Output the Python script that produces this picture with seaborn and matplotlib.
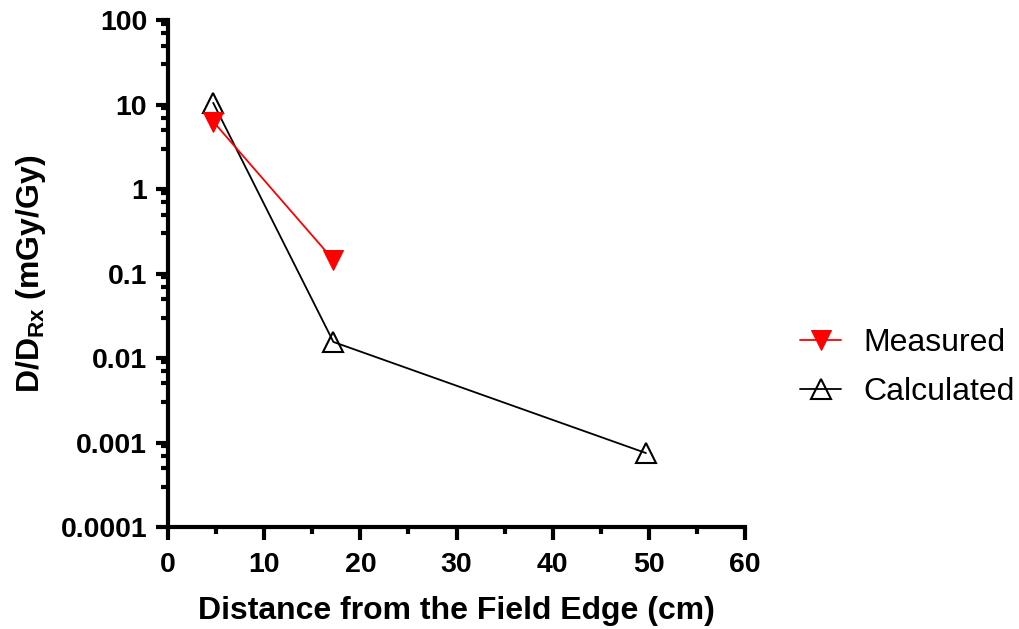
import numpy as np
import pandas as pd
import matplotlib
matplotlib.use("Agg")
import matplotlib.pyplot as plt
import matplotlib.ticker as mticker
import seaborn as sns

# datos
dist_medido = [4.7, 17.2]
dosis_medido = [6.3, 0.145]
dist_calculado = [4.7, 17.2, 49.7]
dosis_calculado = [10.5, 0.0155, 0.00075]
etiquetas_y = ["0.0001", "0.001", "0.01", "0.1", "1", "10", "100"]
ticks_y = [1e-4, 1e-3, 1e-2, 1e-1, 1, 10, 100]

sns.set_style("ticks", {"axes.edgecolor": "black", "text.color": "black",
                        "axes.labelcolor": "black", "xtick.color": "black",
                        "ytick.color": "black"})
plt.rcParams["font.family"] = ["Liberation Sans", "DejaVu Sans"]
plt.rcParams["mathtext.fontset"] = "custom"
plt.rcParams["mathtext.rm"] = "Liberation Sans"
plt.rcParams["mathtext.bf"] = "Liberation Sans:bold"

fig = plt.figure(figsize=(10.2, 6.29), dpi=100)
ax = fig.add_axes([0.1647, 0.1622, 0.7304 - 0.1647, 0.968 - 0.1622])

sns.lineplot(x=dist_calculado, y=dosis_calculado, ax=ax, color="black",
             linewidth=1.3, marker="^", markersize=15, markerfacecolor="none",
             markeredgecolor="black", markeredgewidth=1.5, label="Calculated",
             zorder=3)
sns.lineplot(x=dist_medido, y=dosis_medido, ax=ax, color="red",
             linewidth=1.3, marker="v", markersize=15, markerfacecolor="red",
             markeredgecolor="red", label="Measured", zorder=4)

ax.set_yscale("log")
ax.set_xlim(0, 60)
ax.set_ylim(1e-4, 100)
ax.set_yticks(ticks_y)
ax.set_yticklabels(etiquetas_y)
ax.yaxis.set_minor_locator(mticker.LogLocator(base=10, subs=[3, 5, 7, 9], numticks=20))
ax.yaxis.set_minor_formatter(mticker.NullFormatter())
ax.set_xticks(np.arange(0, 61, 10))
ax.xaxis.set_minor_locator(mticker.MultipleLocator(5))

for s in ["top", "right"]:
    ax.spines[s].set_visible(False)
for s in ["left", "bottom"]:
    ax.spines[s].set_linewidth(3)
    ax.spines[s].set_color("black")

ax.tick_params(which="major", length=9, width=3, labelsize=20.5, pad=6,
               colors="black")
ax.tick_params(axis="x", which="major", pad=9)
ax.tick_params(which="minor", length=5, width=3, colors="black")
for lab in ax.get_xticklabels() + ax.get_yticklabels():
    lab.set_fontweight("bold")

ax.set_xlabel("Distance from the Field Edge (cm)", fontsize=23,
              fontweight="bold", labelpad=13, color="black")
ax.set_ylabel("D/D$_{\\mathbf{Rx}}$ (mGy/Gy)", fontsize=23,
              fontweight="bold", labelpad=9, color="black")

handles, labels = ax.get_legend_handles_labels()
orden = [labels.index("Measured"), labels.index("Calculated")]
leg = ax.legend([handles[i] for i in orden], [labels[i] for i in orden],
                loc="center left", bbox_to_anchor=(1.073, 0.315), borderaxespad=0,
                frameon=False, fontsize=23, handlelength=1.3, handletextpad=0.7,
                labelspacing=0.6)
for t in leg.get_texts():
    t.set_color("black")

fig.savefig("out.png", dpi=100)
